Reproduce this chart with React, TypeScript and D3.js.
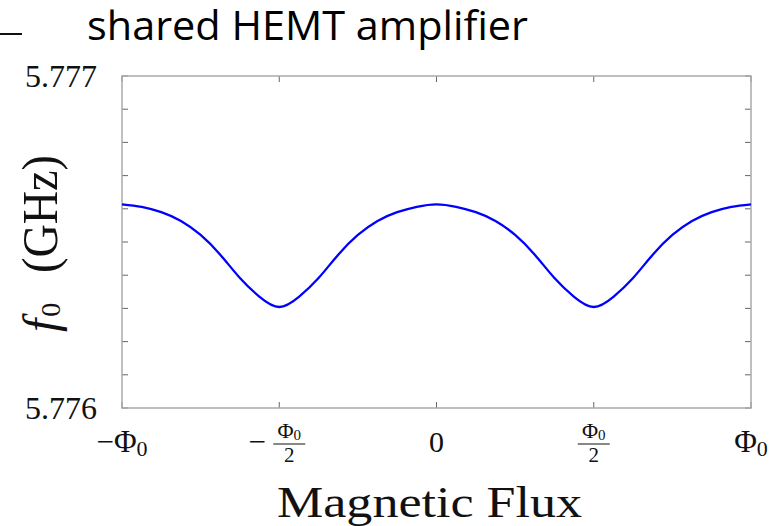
import { useMemo } from "react";
import * as d3 from "d3";

const fluxSixteenths = [
  -16, -15, -14, -13, -12, -11, -10, -9, -8, -7, -6, -5, -4, -3, -2, -1, 0,
  1, 2, 3, 4, 5, 6, 7, 8, 9, 10, 11, 12, 13, 14, 15, 16,
];
const freqGHz = [
  5.7766136, 5.776606, 5.7765898, 5.7765633, 5.7765211, 5.7764617, 5.7763916, 5.7763349,
  5.7763042, 5.7763349, 5.7763916, 5.7764617, 5.7765211, 5.7765633, 5.7765898, 5.776606,
  5.7766136, 5.776606, 5.7765898, 5.7765633, 5.7765211, 5.7764617, 5.7763916, 5.7763349,
  5.7763042, 5.7763349, 5.7763916, 5.7764617, 5.7765211, 5.7765633, 5.7765898, 5.776606,
  5.7766136,
];

const xTicks = [-1, -0.5, 0, 0.5, 1];
const yTicks = [5.776, 5.7761, 5.7762, 5.7763, 5.7764, 5.7765, 5.7766, 5.7767, 5.7768, 5.7769, 5.777];
const yTickLabels = ["5.776", "5.777"];

const TITLE = "shared HEMT amplifier";
const X_LABEL = "Magnetic Flux";

const W = 777;
const H = 526;
const box = { left: 122, right: 751, top: 76, bottom: 408 };
const serif = "'Liberation Serif', 'DejaVu Serif', serif";

export default function App() {
  const x = useMemo(
    () => d3.scaleLinear().domain([-1, 1]).range([box.left, box.right]),
    [],
  );
  const y = useMemo(
    () => d3.scaleLinear().domain([5.776, 5.777]).range([box.bottom, box.top]),
    [],
  );

  const points = fluxSixteenths.map((n, i) => ({ flux: n / 16, f: freqGHz[i] }));
  // natural spline rounds the dips like the reference does
  const linePath =
    d3
      .line<(typeof points)[number]>()
      .x((d) => x(d.flux))
      .y((d) => y(d.f))
      .curve(d3.curveNatural)(points) ?? "";

  const tickColor = "#666";
  const frameColor = "#aaa";

  return (
    <svg
      width={W}
      height={H}
      viewBox={`0 0 ${W} ${H}`}
      style={{ position: "absolute", left: 0, top: 0, background: "#fff" }}
    >
      {/* stray slide dash top-left */}
      <line x1={0} x2={22} y1={34} y2={34} stroke="#111" strokeWidth={2} />
      <text
        x={87}
        y={39.5}
        fontFamily="'Open Sans', 'Noto Sans', sans-serif"
        fontSize={41}
        textLength={441}
        lengthAdjust="spacingAndGlyphs"
        fill="#000"
      >
        {TITLE}
      </text>

      {/* ticks, inward on all four sides */}
      {yTicks.map((t) => (
        <g key={`y${t}`} stroke={tickColor} strokeWidth={1}>
          <line x1={box.left} x2={box.left + 6} y1={y(t)} y2={y(t)} />
          <line x1={box.right} x2={box.right - 6} y1={y(t)} y2={y(t)} />
        </g>
      ))}
      {xTicks.map((t) => (
        <g key={`x${t}`} stroke={tickColor} strokeWidth={1}>
          <line x1={x(t)} x2={x(t)} y1={box.bottom} y2={box.bottom - 6} />
          <line x1={x(t)} x2={x(t)} y1={box.top} y2={box.top + 6} />
        </g>
      ))}

      <rect
        x={box.left}
        y={box.top}
        width={box.right - box.left}
        height={box.bottom - box.top}
        fill="none"
        stroke={frameColor}
        strokeWidth={1.5}
      />

      <path
        d={linePath}
        fill="none"
        stroke="#0000ff"
        strokeWidth={2.3}
        strokeLinejoin="round"
      />

      {/* y tick labels */}
      {yTickLabels.map((l) => (
        <text
          key={l}
          x={97}
          y={y(+l) + 11}
          textAnchor="end"
          fontFamily={serif}
          fontSize={32}
          fill="#111"
        >
          {l}
        </text>
      ))}

      {/* x tick labels */}
      <g fontFamily={serif} fill="#111">
        <FluxLabel cx={x(-1)} sign="−" />
        <FracLabel cx={x(-0.5)} sign="−" />
        <text x={x(0)} y={452} textAnchor="middle" fontSize={30}>
          0
        </text>
        <FracLabel cx={x(0.5)} sign="" />
        <FluxLabel cx={x(1)} sign="" />
      </g>

      {/* y axis title */}
      <g fontFamily={serif} fill="#111">
        <text transform="translate(57,332) rotate(-90)" fontSize={48}>
          <tspan fontStyle="italic">f</tspan>
          <tspan fontSize={28} dx={2} dy={3}>
            0
          </tspan>
        </text>
        <text
          transform="translate(57,273) rotate(-90)"
          fontSize={50}
          textLength={118}
          lengthAdjust="spacingAndGlyphs"
        >
          (GHz)
        </text>
      </g>

      <text
        x={277}
        y={517}
        fontFamily={serif}
        fontSize={44}
        textLength={305}
        lengthAdjust="spacingAndGlyphs"
        fill="#111"
      >
        {X_LABEL}
      </text>
    </svg>
  );
}

function FluxLabel({ cx, sign }: { cx: number; sign: string }) {
  return (
    <text x={cx} y={452} textAnchor="middle" fontSize={31}>
      {sign}Φ
      <tspan fontSize={22} dy={4}>
        0
      </tspan>
    </text>
  );
}

function FracLabel({ cx, sign }: { cx: number; sign: string }) {
  const fracCx = sign ? cx + 10 : cx;
  return (
    <g>
      {sign && (
        <text x={cx - 22} y={452} textAnchor="middle" fontSize={31}>
          {sign}
        </text>
      )}
      <text x={fracCx} y={438} textAnchor="middle" fontSize={22}>
        Φ
        <tspan fontSize={15} dy={2}>
          0
        </tspan>
      </text>
      <line
        x1={fracCx - 16}
        x2={fracCx + 16}
        y1={444}
        y2={444}
        stroke="#111"
        strokeWidth={1.1}
      />
      <text x={fracCx} y={462} textAnchor="middle" fontSize={21}>
        2
      </text>
    </g>
  );
}
